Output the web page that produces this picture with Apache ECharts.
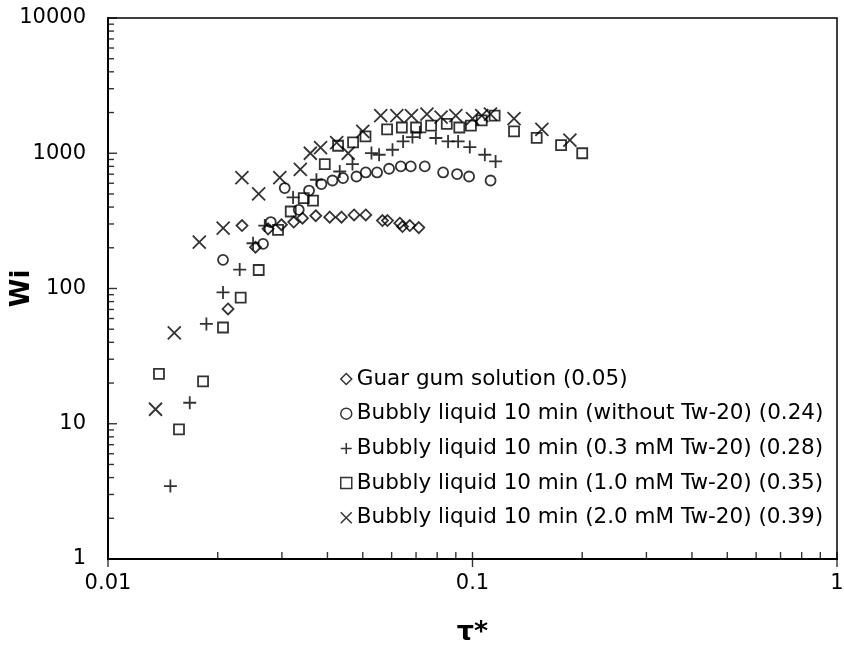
<!DOCTYPE html>
<html><head><meta charset="utf-8">
<script src="https://cdn.jsdelivr.net/npm/echarts@6/dist/echarts.min.js"></script>
<style>html,body{margin:0;padding:0;background:#fff}#c{width:844px;height:653px}</style>
</head><body><div id="c"></div>
<script>
// ---- data ----
const seriesNames = [
  'Guar gum solution (0.05)',
  'Bubbly liquid 10 min (without Tw-20) (0.24)',
  'Bubbly liquid 10 min (0.3 mM Tw-20) (0.28)',
  'Bubbly liquid 10 min (1.0 mM Tw-20) (0.35)',
  'Bubbly liquid 10 min (2.0 mM Tw-20) (0.39)'
];
const tauGuar = [0.02135,0.02332,0.02539,0.02749,0.02991,0.03233,0.03416,0.03715,0.04058,0.04370,0.04732,0.05095,0.05662,0.05844,0.06318,0.06426,0.06729,0.07123];
const wiGuar  = [70.6,292,202,276,296,310,331,345,337,337,350,350,318,318,304,287,292,282];
const tauNoTw = [0.02068,0.02663,0.02796,0.03054,0.03337,0.03561,0.03851,0.04128,0.04414,0.04805,0.05095,0.05472,0.05904,0.06358,0.06771,0.07397,0.08306,0.09073,0.09787,0.1121];
const wiNoTw  = [163,214,310,553,382,530,592,629,655,673,721,721,768,799,799,799,721,702,673,629];
const tauTw03 = [0.01483,0.01676,0.01862,0.02068,0.02298,0.02500,0.02692,0.03219,0.03731,0.04323,0.04685,0.05282,0.05543,0.06033,0.06451,0.06843,0.07169,0.07933,0.08570,0.09132,0.09831,0.1081,0.1157];
const wiTw03  = [3.46,14.3,54.7,93.6,138,216,292,471,637,733,832,1003,975,1061,1223,1318,1426,1296,1223,1223,1111,975,870];
const tauTw10 = [0.01380,0.01566,0.01823,0.02068,0.02312,0.02591,0.02927,0.03172,0.03444,0.03651,0.03933,0.04277,0.04703,0.05086,0.0583,0.0640,0.0700,0.0770,0.0850,0.0920,0.0990,0.1060,0.1150,0.1300,0.1500,0.1750,0.2000];
const wiTw10  = [23.4,9.09,20.6,51.5,85.6,137,271,371,466,447,832,1136,1202,1331,1500,1550,1550,1600,1650,1550,1600,1750,1900,1450,1300,1150,1000];
const tauTw20 = [0.01350,0.01520,0.01780,0.02070,0.02330,0.02590,0.02960,0.03370,0.03590,0.03830,0.04240,0.04560,0.0500,0.0560,0.0620,0.0680,0.0750,0.0820,0.0900,0.1000,0.1060,0.1120,0.1300,0.1550,0.1850];
const wiTw20  = [12.8,47,220,280,660,500,660,760,1000,1100,1200,1000,1450,1900,1900,1900,1950,1850,1900,1800,1900,1950,1800,1500,1250];
const xTickLabels = ['0.01','0.1','1'];
const yTickLabels = ['1','10','100','1000','10000'];

// ---- helpers ----
const zip = (a,b) => a.map((v,i)=>[v,b[i]]);
const xMajor = xTickLabels.map(Number), yMajor = yTickLabels.map(Number);
const minorX = [], minorY = [];
for (let k=-2;k<0;k++) for (let m=2;m<=9;m++) minorX.push(+(m*Math.pow(10,k)).toPrecision(3));
for (let k=0;k<4;k++) for (let m=2;m<=9;m++) minorY.push(m*Math.pow(10,k));

const FONT = 'DejaVu Sans';
const stroke = {color:'rgba(0,0,0,0)', borderColor:'#000', borderWidth:1.8};
const PLUS = 'path://M0,5L10,5M5,0L5,10';
const CROSS = 'path://M0,0L10,10M10,0L0,10';
const symbols = ['diamond','circle',PLUS,'rect',CROSS];
const sizes = [[11,11],10,13,10,13];
const dataSets = [zip(tauGuar,wiGuar),zip(tauNoTw,wiNoTw),zip(tauTw03,wiTw03),zip(tauTw10,wiTw10),zip(tauTw20,wiTw20)];

const scatter = dataSets.map((d,i)=>({
  type:'scatter', name:seriesNames[i], data:d, symbol:symbols[i], symbolSize:sizes[i],
  itemStyle:Object.assign({},stroke), z:3, silent:true
}));

// axis tick marks, placed through the axes' own log scales
const tickMark = (data, size, offset) => ({
  type:'scatter', data, symbol:'rect', symbolSize:size, symbolOffset:offset,
  itemStyle:{color:'#000'}, clip:false, silent:true, z:5, legendHoverLink:false
});
const tickSeries = [
  tickMark(yMajor.map(v=>[0.01,v]), [9,1.4], [4.5,0]),
  tickMark(minorY.map(v=>[0.01,v]), [6,1.4], [3,0]),
  tickMark(xMajor.map(v=>[v,1]), [1.4,15], [0,0.5]),
  tickMark(minorX.map(v=>[v,1]), [1.4,7], [0,-3.5])
];

const chart = echarts.init(document.getElementById('c'), null, {renderer:'canvas'});
chart.setOption({
  animation:false,
  backgroundColor:'#fff',
  grid:{left:108, top:18, right:7, bottom:94, outerBoundsMode:'none', containLabel:false,
        show:true, borderColor:'#000', borderWidth:1.5, backgroundColor:'rgba(0,0,0,0)'},
  xAxis:{type:'log', logBase:10, min:0.01, max:1,
    name:'τ*', nameLocation:'middle', nameGap:60, nameMoveOverlap:false,
    nameTextStyle:{fontFamily:FONT, fontSize:27, fontWeight:'bold', color:'#000'},
    axisLine:{show:true, lineStyle:{color:'#000', width:2}},
    axisTick:{show:false}, splitLine:{show:false}, minorTick:{show:false},
    axisLabel:{fontFamily:FONT, fontSize:21, color:'#000', margin:14,
      formatter:v=>xTickLabels[xMajor.findIndex(t=>Math.abs(Math.log10(t)-Math.log10(v))<1e-6)] || ''}
  },
  yAxis:{type:'log', logBase:10, min:1, max:10000,
    name:'Wi', nameLocation:'middle', nameGap:73, nameRotate:90, nameMoveOverlap:false,
    nameTextStyle:{fontFamily:FONT, fontSize:26, fontWeight:'bold', color:'#000'},
    axisLine:{show:true, lineStyle:{color:'#000', width:2}},
    axisTick:{show:false}, splitLine:{show:false}, minorTick:{show:false},
    axisLabel:{fontFamily:FONT, fontSize:21, color:'#000', margin:22,
      formatter:v=>yTickLabels[yMajor.findIndex(t=>Math.abs(Math.log10(t)-Math.log10(v))<1e-6)] || ''}
  },
  legend:{orient:'vertical', left:335, top:363, itemWidth:11, itemHeight:11, itemGap:12.7,
    data:seriesNames, selectedMode:false,
    textStyle:{fontFamily:FONT, fontSize:21.5, color:'#000', lineHeight:22},
    itemStyle:{borderWidth:1.5}
  },
  series:[...scatter, ...tickSeries]
});
</script></body></html>
